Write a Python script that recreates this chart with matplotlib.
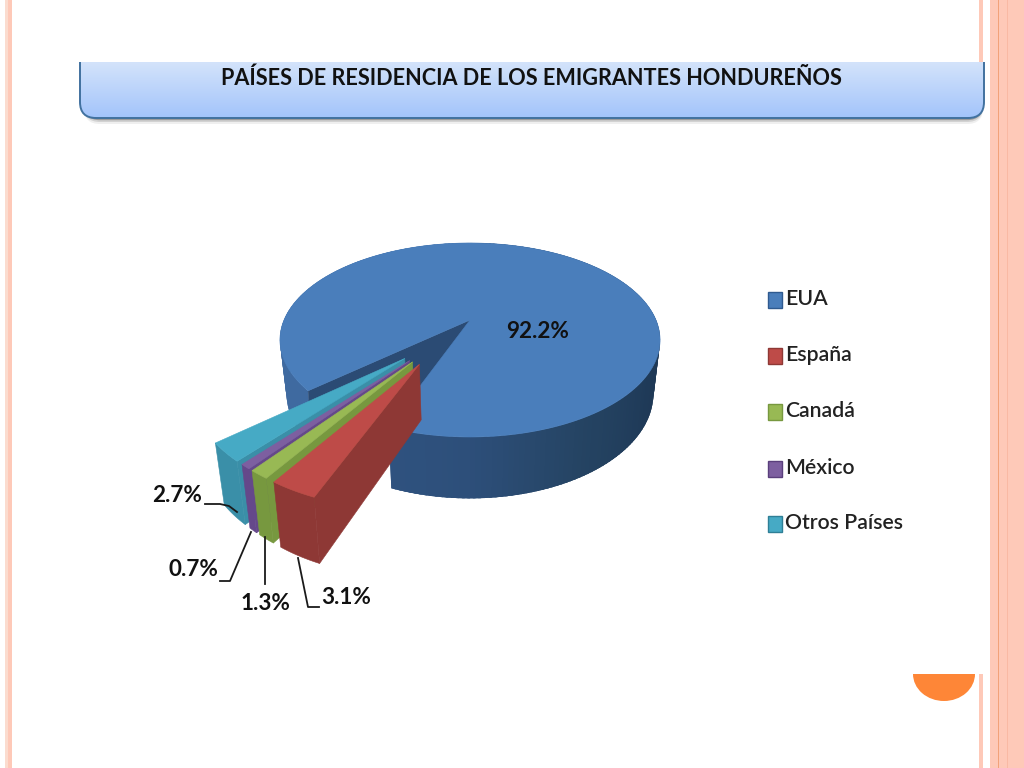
import numpy as np
import matplotlib
matplotlib.use('Agg')
from matplotlib import pyplot as plt
from matplotlib.colors import LinearSegmentedColormap, to_rgb
from matplotlib.patches import FancyBboxPatch, Polygon, Rectangle, Wedge
from matplotlib.transforms import Affine2D

title = 'PAÍSES DE RESIDENCIA DE LOS EMIGRANTES HONDUREÑOS'
categories = ['EUA', 'España', 'Canadá', 'México', 'Otros Países']
values = [92.2, 3.1, 1.3, 0.7, 2.7]
top_colors = ['#4a7ebb', '#be4b48', '#98b954', '#7d5fa0', '#46aac5']
wall_colors = ['#3f6aa0', '#8e3835', '#77983f', '#65488a', '#3a8fa8']
edge_colors = ['#2f5a8f', '#8e3835', '#77983f', '#5a3f7c', '#2f7f96']

FONT = 'Lato'

# pie geometry, pixels of the 1024x768 picture
CX, CY = 470, 320
RX, RY = 186, 92.9
PERSP = 0.206
DEPTH = 52
SHRINK = 0.035
FIRST_ANGLE = 48.8
EXPLODE = 0.5
EXPLODE_SPREAD = 0.6


def project(u, v, z=0.0):
    s = 1 / (1 - PERSP * v)
    f = 1 - SHRINK * z
    return CX + RX * u * s * f, CY + RY * v * s * f + DEPTH * z * s


def rim(phi, du=0.0, dv=0.0):
    # phi in degrees, from the front of the pie going clockwise seen from above
    rad = np.radians(phi)
    return du - np.sin(rad), dv + np.cos(rad)


def face(ax, pts, color, zorder, lw=0.4):
    ax.add_patch(Polygon(pts, closed=True, facecolor=color, edgecolor=color,
                         linewidth=lw, zorder=zorder))


def draw_main_slice(ax, start, end, top, left_wall):
    # right side of the wall goes dark towards the right edge
    stops = [270, 280, 300, 330, 360, 381]
    shades = ['#2a4a70', '#1f3855', '#1f3a58', '#254463', '#2d4f7a', '#2f527f']
    rgb = np.array([to_rgb(c) for c in shades])
    phis = np.linspace(start, end, 241)
    step = phis[1] - phis[0]
    # strips overlap the next one so no seams show
    for p0 in phis[:-1]:
        p1 = min(p0 + 2.5 * step, end)
        u0, v0 = rim(p0)
        u1, v1 = rim(p1)
        if p0 < 180:
            col = left_wall
        else:
            col = tuple(np.interp(p0, stops, rgb[:, i]) for i in range(3))
        face(ax, [project(u0, v0), project(u1, v1), project(u1, v1, 1),
                  project(u0, v0, 1)], col, 2, lw=0)
    # inner cut face seen through the gap
    u, v = rim(start)
    face(ax, [project(0, 0), project(u, v), project(u, v, 1), project(0, 0, 1)],
         '#2b4b74', 3)
    outline = [project(0, 0)] + [project(*rim(p)) for p in phis]
    face(ax, outline, top, 4)


def draw_small_slice(ax, start, end, gap_mid, top, wall, zorder):
    mid = (start + end) / 2
    direction = np.radians(gap_mid + EXPLODE_SPREAD * (mid - gap_mid))
    du, dv = -EXPLODE * np.sin(direction), EXPLODE * np.cos(direction)
    phis = np.linspace(start, end, 30)
    u, v = rim(start, du, dv)
    face(ax, [project(du, dv), project(u, v), project(u, v, 1), project(du, dv, 1)],
         wall, zorder)
    arc_top = [project(*rim(p, du, dv)) for p in phis]
    arc_bot = [project(*rim(p, du, dv), 1) for p in phis]
    face(ax, arc_top + arc_bot[::-1], wall, zorder)
    face(ax, [project(du, dv)] + arc_top, top, zorder + 0.5)


def draw_page(ax):
    pink = '#fec9b8'
    ax.add_patch(Rectangle((5, 0), 2.5, 768, color='#fbdccf', lw=0))
    ax.add_patch(Rectangle((8, 0), 4, 768, color=pink, lw=0))
    ax.add_patch(Rectangle((979, 0), 4, 62, color=pink, lw=0))
    ax.add_patch(Rectangle((979, 674), 4, 94, color=pink, lw=0))
    ax.add_patch(Rectangle((990, 0), 34, 768, color=pink, lw=0))
    ax.add_patch(Rectangle((998, 0), 1.2, 768, color='#f2a27a', lw=0))
    ax.add_patch(Rectangle((1007, 0), 1.2, 768, color='#f9b9a4', lw=0))
    # half circle at the bottom right
    half = Wedge((0, 0), 1, 0, 180, color='#fe8637', lw=0)
    half.set_transform(Affine2D().scale(31, 27).translate(944, 674) + ax.transData)
    ax.add_patch(half)


def draw_header(ax):
    # the box is cut flat at its top
    cut = Rectangle((0, 62), 1024, 200, transform=ax.transData)
    for off, col in [(6, '#efefef'), (4, '#d2d2d2'), (2.2, '#9c9c9c')]:
        shadow = FancyBboxPatch((84, 30), 899, 88 + off,
                                boxstyle='round,pad=0,rounding_size=16',
                                facecolor=col, edgecolor='none', zorder=1)
        ax.add_patch(shadow)
        shadow.set_clip_path(cut)
    cmap = LinearSegmentedColormap.from_list('hdr', ['#d3e3fa', '#a3c4fb'])
    img = ax.imshow(np.linspace(0, 1, 64)[:, None], cmap=cmap, aspect='auto',
                    extent=(80, 984, 118, 62), zorder=2)
    img.set_clip_path(FancyBboxPatch((80, 30), 904, 88,
                                     boxstyle='round,pad=0,rounding_size=16',
                                     transform=ax.transData))
    box = FancyBboxPatch((80, 30), 904, 88, boxstyle='round,pad=0,rounding_size=16',
                         facecolor='none', edgecolor='#41719f', linewidth=1.4, zorder=3)
    ax.add_patch(box)
    box.set_clip_path(cut)
    ax.text(531, 78, title, ha='center', va='center', fontsize=15.6,
            fontweight='bold', family=FONT, color='#111111', zorder=5)


def draw_leaders(ax):
    line = dict(color='#1a1a1a', lw=1.3, zorder=8)
    ax.plot([205, 220, 229, 237], [504, 504, 506, 512], **line)
    ax.plot([220, 230, 251], [581, 581, 532], **line)
    ax.plot([265, 265], [537, 584], **line)
    ax.plot([298, 308, 319], [558, 607, 607], **line)


fig = plt.figure(figsize=(10.24, 7.68), dpi=100)
ax = fig.add_axes([0, 0, 1, 1])
draw_page(ax)
draw_header(ax)

# angles come from the values, first slice then clockwise
edges = FIRST_ANGLE + np.cumsum([0] + [v * 3.6 for v in values])
draw_main_slice(ax, edges[0], edges[1], top_colors[0], wall_colors[0])
gap_mid = (edges[1] + edges[-1]) / 2 - 360
for i in range(len(values) - 1, 0, -1):
    draw_small_slice(ax, edges[i] - 360, edges[i + 1] - 360, gap_mid, top_colors[i],
                     wall_colors[i], 5 + (len(values) - i))

label_style = dict(ha='center', va='center', fontsize=16.2, fontweight='bold',
                   family=FONT, color='#111111', zorder=9)
label_pos = [(538, 331), (346, 597), (265, 604), (193, 570), (177, 495)]
for val, (lx, ly) in zip(values, label_pos):
    ax.text(lx, ly, f'{val:.1f}%', **label_style)
draw_leaders(ax)

legend_y = [300, 356, 412, 469, 524]
for name, col, edge, ly in zip(categories, top_colors, edge_colors, legend_y):
    ax.add_patch(Rectangle((768, ly - 8), 13.5, 16, facecolor=col, edgecolor=edge,
                           linewidth=1, zorder=5))
    ax.text(785, ly - 1, name, ha='left', va='center', fontsize=15.3, family=FONT,
            fontweight='semibold', color='#222222', zorder=5)

ax.set_xlim(0, 1024)
ax.set_ylim(768, 0)
ax.axis('off')
fig.savefig('out.png', dpi=100, facecolor='white')
